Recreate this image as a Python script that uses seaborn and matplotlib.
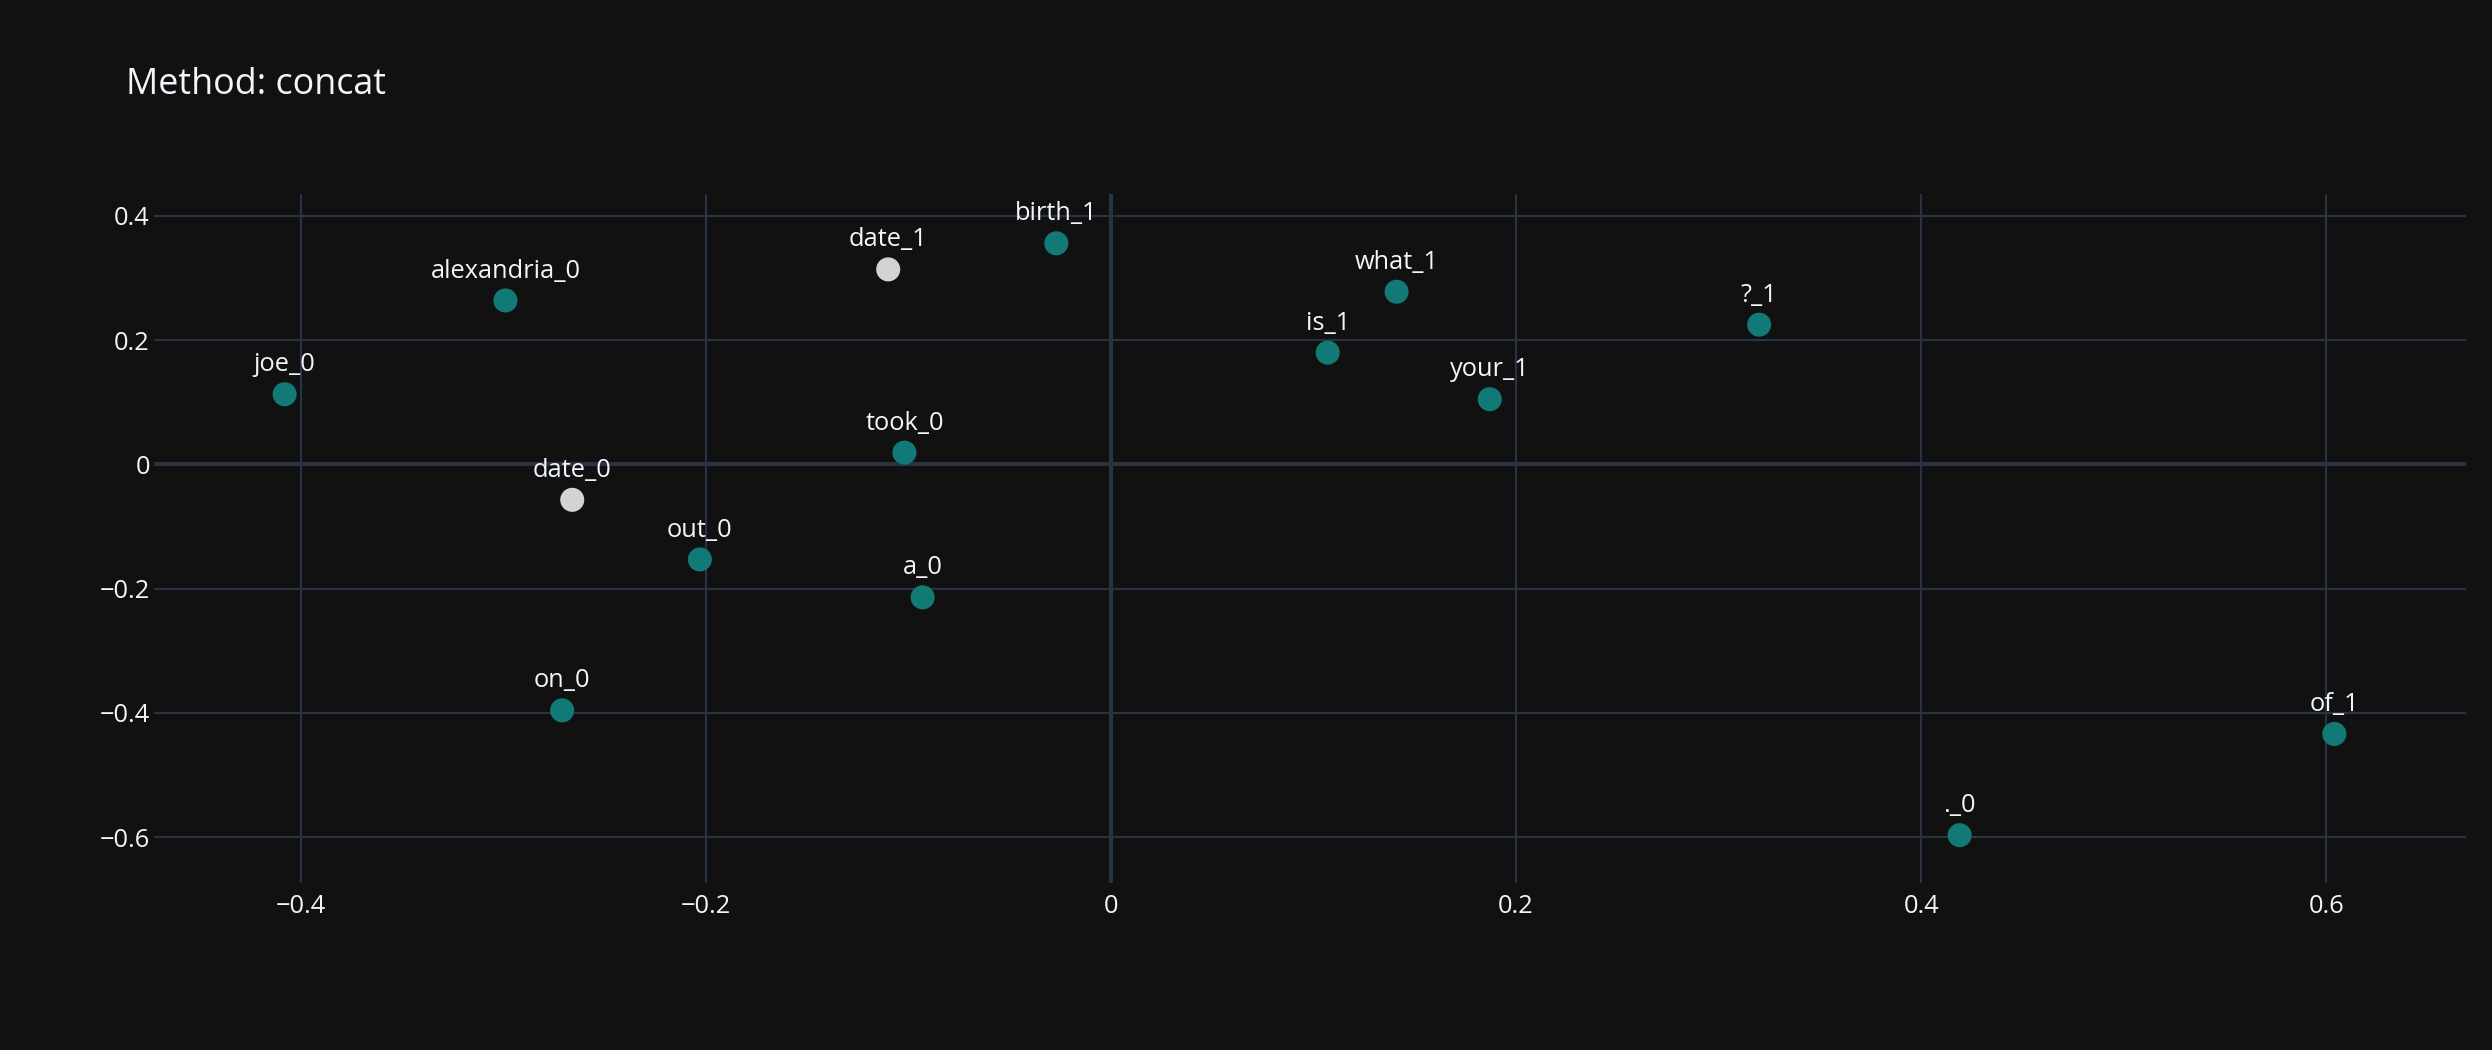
import numpy as np
import pandas as pd
import matplotlib
matplotlib.use('Agg')
import matplotlib.pyplot as plt
import seaborn as sns
from matplotlib.ticker import FixedLocator, FuncFormatter

# token embeddings, 2-d projection
tokens = ['joe_0', 'alexandria_0', 'date_1', 'birth_1', 'what_1', 'is_1', 'your_1', '?_1',
          'took_0', 'date_0', 'out_0', 'a_0', 'on_0', '._0', 'of_1']
xs = [-0.408, -0.299, -0.110, -0.027, 0.141, 0.107, 0.187, 0.320,
      -0.102, -0.266, -0.203, -0.093, -0.271, 0.419, 0.604]
ys = [0.113, 0.264, 0.314, 0.356, 0.278, 0.180, 0.105, 0.225,
      0.019, -0.057, -0.153, -0.214, -0.396, -0.597, -0.434]
groups = ['other', 'other', 'date', 'other', 'other', 'other', 'other', 'other',
          'other', 'date', 'other', 'other', 'other', 'other', 'other']
xticks = [-0.4, -0.2, 0, 0.2, 0.4, 0.6]
yticks = [-0.6, -0.4, -0.2, 0, 0.2, 0.4]

df = pd.DataFrame({'token': tokens, 'x': xs, 'y': ys, 'group': groups})

bg = '#111111'
gridc = '#283442'
txt = '#f2f5fa'

sns.set_theme(style='dark', rc={'figure.facecolor': bg, 'axes.facecolor': bg,
                                'axes.edgecolor': bg, 'text.color': txt,
                                'xtick.color': txt, 'ytick.color': txt})
plt.rcParams['font.family'] = ['Open Sans', 'DejaVu Sans']

fig = plt.figure(figsize=(24.92, 10.5), dpi=100)
ax = fig.add_axes([154/2492, 1-883/1050, (2466-154)/2492, (883-194)/1050])

ax.set_xlim(-0.4725, 0.669)
ax.set_ylim(-0.674, 0.4354)

for v in xticks:
    ax.axvline(v, color=gridc, lw=1.5 if v != 0 else 2.9, zorder=0)
for v in yticks:
    ax.axhline(v, color=gridc, lw=1.5 if v != 0 else 2.9, zorder=0)

sns.scatterplot(data=df, x='x', y='y', hue='group',
                palette={'other': '#127a76', 'date': '#d3d3d3'},
                s=300, edgecolor='none', linewidth=0, legend=False, ax=ax, zorder=3)

for t, xv, yv in zip(tokens, xs, ys):
    ax.annotate(t, (xv, yv), xytext=(0, 16.5), textcoords='offset points',
                ha='center', va='baseline', fontsize=18.3, color=txt, zorder=4)

ax.xaxis.set_major_locator(FixedLocator(xticks))
ax.yaxis.set_major_locator(FixedLocator(yticks))
fmt = FuncFormatter(lambda v, p: ('{:g}'.format(round(v, 2))).replace('-', '\u2212'))
ax.xaxis.set_major_formatter(fmt)
ax.yaxis.set_major_formatter(fmt)
ax.tick_params(axis='both', length=0, labelsize=18.3)
ax.tick_params(axis='x', pad=8)
ax.tick_params(axis='y', pad=3)
ax.set_xlabel('')
ax.set_ylabel('')
ax.grid(False)
for sp in ax.spines.values():
    sp.set_visible(False)

fig.text(126/2492, 1-94/1050, 'Method: concat', fontsize=25.8, color=txt,
         ha='left', va='baseline')

fig.savefig('out.png', dpi=100, facecolor=bg)
